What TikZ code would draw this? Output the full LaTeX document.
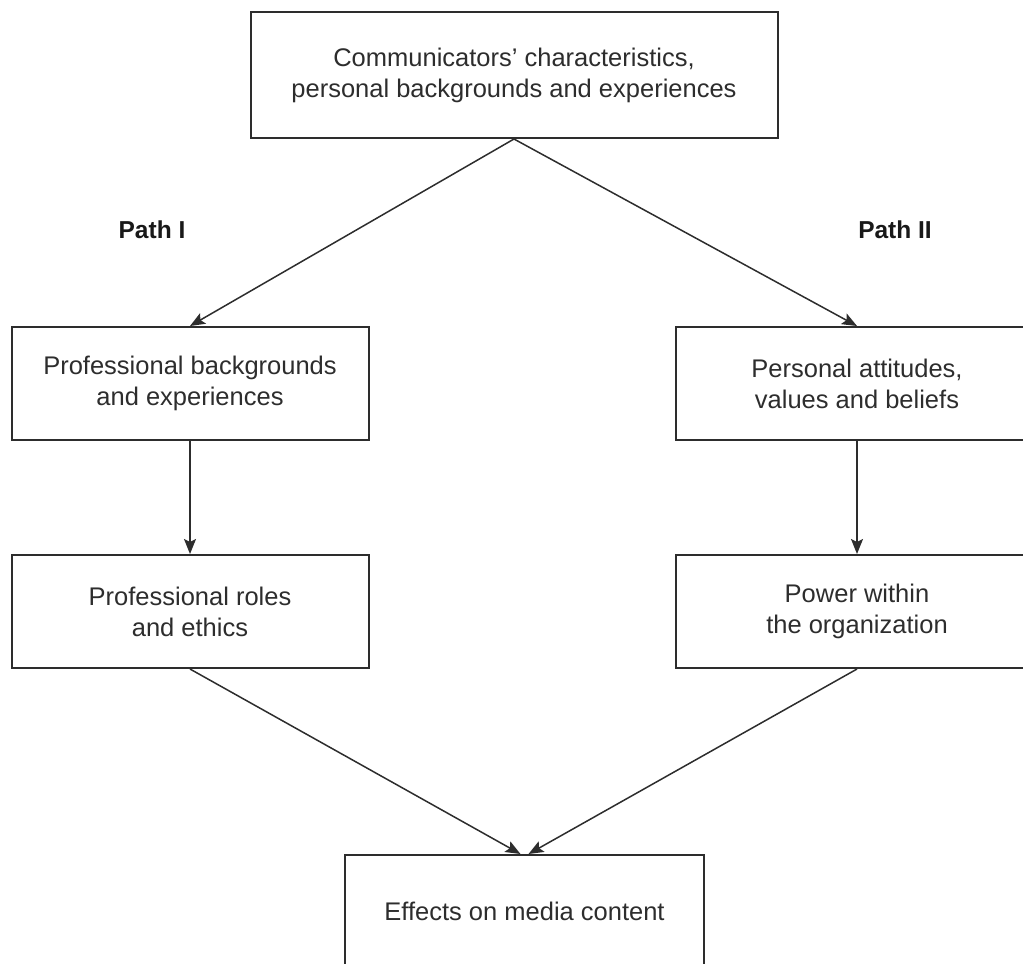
\documentclass[tikz,border=0pt]{standalone}
\usepackage{fontspec}
\setmainfont{Liberation Sans}
\usetikzlibrary{arrows.meta,positioning}
\definecolor{inkgray}{RGB}{45,45,45}
\begin{document}
\begin{tikzpicture}[x=1pt,y=-1pt,box/.style={draw=inkgray,line width=2pt,align=center,minimum width=357pt,minimum height=113pt,font=\fontsize{25.5}{31}\selectfont,text=inkgray},arr/.style={-{Stealth[length=15pt,width=12pt,inset=3pt]},line width=1.5pt,draw=inkgray},lbl/.style={font=\fontsize{24.5}{30}\selectfont\bfseries,text=black!90}]
\useasboundingbox (0,0) rectangle (1023,964);

\node[box,minimum width=527pt,minimum height=126pt] (comm) at(514,75) {Communicators’ characteristics,\\personal backgrounds and experiences};
\node[box] (profbg) at(190,383.5) {Professional backgrounds\\and experiences};
\node[box,minimum width=362pt] (attit) at(857,383.5) {Personal attitudes,\\values and beliefs};
\node[box] (roles) at(190,611.5) {Professional roles\\and ethics};
\node[box,minimum width=362pt] (power) at(857,611.5) {Power within\\the organization};
\node[box,minimum width=359pt] (effects) at(524.5,911.5) {Effects on media content};
\node[lbl] (path1) at(152,230) {Path I};
\node[lbl] (path2) at(895,230) {Path II};
\draw[arr] (comm.south)--(profbg.north);\draw[arr] (comm.south)--(attit.north);
\draw[arr] (profbg)--(roles);\draw[arr] (attit)--(power);
\draw[arr] (roles.south)--([xshift=-4pt]effects.north);\draw[arr] (power.south)--([xshift=4pt]effects.north);
\end{tikzpicture}
\end{document}
